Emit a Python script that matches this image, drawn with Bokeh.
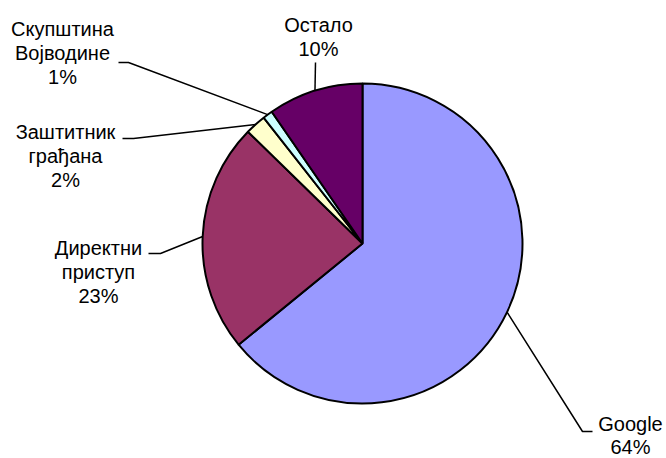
import math
from bokeh.plotting import figure
from bokeh.models import Range1d, ColumnDataSource
from bokeh.core.properties import value
from bokeh.embed import file_html
from bokeh.resources import INLINE

# ---- data ----
categories = ["Google", "Директни приступ", "Заштитник грађана", "Скупштина Војводине", "Остало"]
shares = [64.1, 23.2, 2.1, 1.0, 9.6]
pct_labels = ["64%", "23%", "2%", "1%", "10%"]
colors = ["#9999FF", "#993366", "#FFFFCC", "#CCFFFF", "#660066"]

# ---- layout (page pixel coordinates) ----
PAGE_W, PAGE_H = 666, 458
CX, CY, R = 362, 243, 160
# label block: centre x, first baseline y
label_anchor = [(630, 423), (98, 247), (65, 131), (62, 28), (318, 24)]
# leader: knee point and tail end
leader_knee = [(582, 431), (160, 253), (133, 138), (128, 62), (315, 62)]
leader_tail = [(592, 431), (148, 253), (122, 138), (118, 62), (315, 62)]
LINE_STEP = 24
GOOGLE_STEP = 23


def fy(py):
    return PAGE_H - py


total = sum(shares)
starts, ends, mids = [], [], []
cum = 0.0
for s in shares:
    a0 = math.pi / 2 - 2 * math.pi * (cum + s) / total
    a1 = math.pi / 2 - 2 * math.pi * cum / total
    starts.append(a0)
    ends.append(a1)
    mids.append((a0 + a1) / 2)
    cum += s

p = figure(width=PAGE_W, height=PAGE_H, x_range=Range1d(0, PAGE_W), y_range=Range1d(0, PAGE_H),
           output_backend="svg", toolbar_location=None, min_border=0)
p.axis.visible = False
p.grid.visible = False
p.outline_line_color = None
p.background_fill_color = "white"

src = ColumnDataSource(dict(x=[CX] * len(shares), y=[fy(CY)] * len(shares),
                            start=starts, end=ends, color=colors))
p.wedge(x="x", y="y", radius=R, start_angle="start", end_angle="end",
        fill_color="color", line_color="black", line_width=2, source=src)

# leader lines
xs, ys = [], []
for i, m in enumerate(mids):
    ex = CX + R * math.cos(m)
    ey = fy(CY) + R * math.sin(m)
    xs.append([ex, leader_knee[i][0], leader_tail[i][0]])
    ys.append([ey, fy(leader_knee[i][1]), fy(leader_tail[i][1])])
p.multi_line(xs=xs, ys=ys, line_color="black", line_width=1.5)

# labels
tx, ty, tt = [], [], []
for i, name in enumerate(categories):
    lines = name.split(" ") + [pct_labels[i]]
    ax, ay = label_anchor[i]
    step = GOOGLE_STEP if i == 0 else LINE_STEP
    for k, ln in enumerate(lines):
        tx.append(ax)
        ty.append(fy(ay + k * step))
        tt.append(ln)
p.text(x=tx, y=ty, text=tt, text_align="center", text_baseline="alphabetic",
       text_font=value("Liberation Sans"), text_font_size="20px", text_color="black")

open("out.html", "w").write(file_html(p, INLINE))
